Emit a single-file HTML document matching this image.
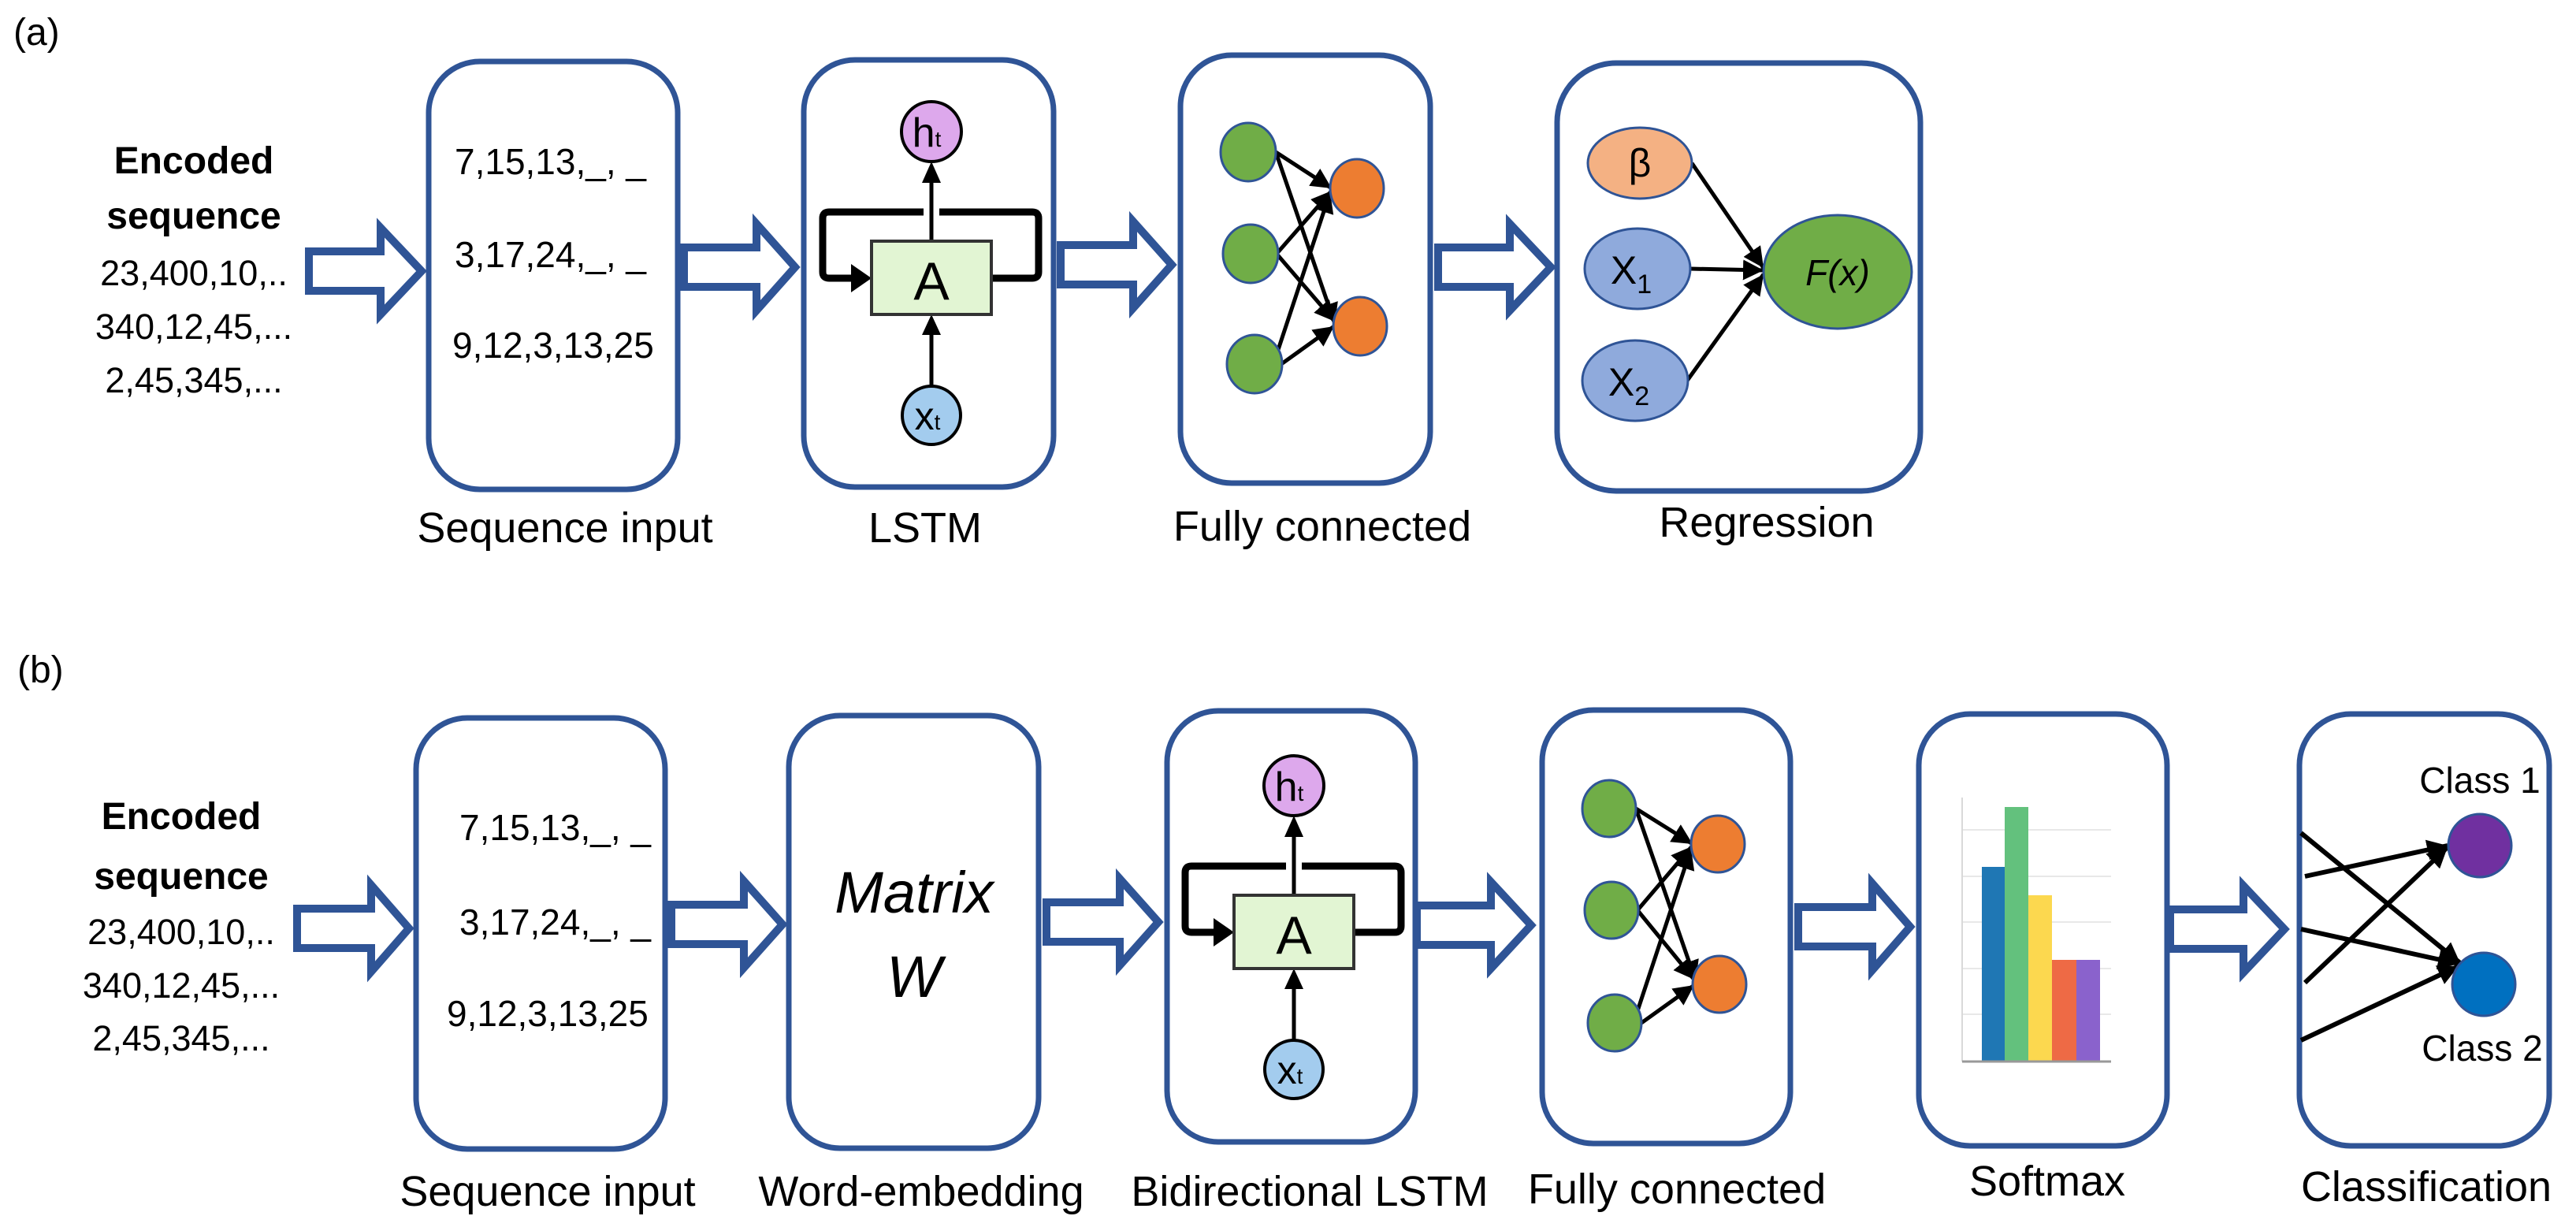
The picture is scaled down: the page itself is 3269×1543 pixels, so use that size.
<!DOCTYPE html>
<html><head><meta charset="utf-8"><style>
html,body{margin:0;padding:0;background:#fff}
svg{display:block}
text{font-family:"Liberation Sans",sans-serif;fill:#000}
</style></head><body>
<svg width="3269" height="1543" viewBox="0 0 3269 1543" xmlns="http://www.w3.org/2000/svg">
<defs>
<marker id="tri" viewBox="0 0 10 10" refX="10" refY="5" markerWidth="26" markerHeight="26" orient="auto" markerUnits="userSpaceOnUse"><path d="M0,0 L10,5 L0,10 z" fill="#000"/></marker>
</defs>

<text x="17" y="57" font-size="48">(a)</text>
<text x="22" y="866" font-size="48">(b)</text>

<g text-anchor="middle">
<text x="246" y="220" font-size="48" font-weight="bold">Encoded</text>
<text x="246" y="290" font-size="48" font-weight="bold">sequence</text>
<text x="246" y="362" font-size="45">23,400,10,..</text>
<text x="246" y="430" font-size="45">340,12,45,...</text>
<text x="246" y="498" font-size="45">2,45,345,...</text>
<text x="230" y="1052" font-size="48" font-weight="bold">Encoded</text>
<text x="230" y="1128" font-size="48" font-weight="bold">sequence</text>
<text x="230" y="1198" font-size="45">23,400,10,..</text>
<text x="230" y="1266" font-size="45">340,12,45,...</text>
<text x="230" y="1333" font-size="45">2,45,345,...</text>
</g>

<g fill="none" stroke="#2F5496" stroke-width="7">
<rect x="544" y="78" width="316" height="543" rx="65"/>
<rect x="1020" y="76" width="317" height="542" rx="65"/>
<rect x="1498" y="70" width="317" height="543" rx="65"/>
<rect x="1976" y="80" width="461" height="543" rx="75"/>
<rect x="528" y="911" width="316" height="547" rx="65"/>
<rect x="1001" y="908" width="317" height="549" rx="65"/>
<rect x="1481" y="902" width="315" height="547" rx="65"/>
<rect x="1957" y="901" width="315" height="550" rx="65"/>
<rect x="2435" y="906" width="315" height="548" rx="65"/>
<rect x="2918" y="906" width="317" height="548" rx="65"/>
</g>

<g fill="#fff" stroke="#2F5496" stroke-width="10" stroke-linejoin="miter">
<polygon points="392,319 483,319 483,289 535,344 483,399 483,369 392,369"/>
<polygon points="868,314 960,314 960,284 1009,339 960,394 960,364 868,364"/>
<polygon points="1346,311 1438,311 1438,281 1487,336 1438,391 1438,361 1346,361"/>
<polygon points="1825,314 1916,314 1916,284 1968,339 1916,394 1916,364 1825,364"/>
<polygon points="377,1153 471,1153 471,1123 519,1178 471,1233 471,1203 377,1203"/>
<polygon points="852,1148 944,1148 944,1118 993,1173 944,1228 944,1198 852,1198"/>
<polygon points="1328,1145 1421,1145 1421,1115 1470,1170 1421,1225 1421,1195 1328,1195"/>
<polygon points="1798,1149 1892,1149 1892,1119 1943,1174 1892,1229 1892,1199 1798,1199"/>
<polygon points="2282,1151 2376,1151 2376,1121 2424,1176 2376,1231 2376,1201 2282,1201"/>
<polygon points="2754,1154 2847,1154 2847,1124 2899,1179 2847,1234 2847,1204 2754,1204"/>
</g>

<g font-size="46">
<text x="577" y="221">7,15,13,_, _</text>
<text x="577" y="339">3,17,24,_, _</text>
<text x="574" y="454">9,12,3,13,25</text>
<text x="583" y="1066">7,15,13,_, _</text>
<text x="583" y="1186">3,17,24,_, _</text>
<text x="567" y="1302">9,12,3,13,25</text>
</g>

<text x="1160" y="1158" font-size="74" font-style="italic" text-anchor="middle">Matrix</text>
<text x="1160" y="1265" font-size="74" font-style="italic" text-anchor="middle">W</text>

<g id="lstm">
<path d="M1258,353 L1310,353 Q1318,353 1318,345 L1318,277 Q1318,269 1310,269 L1192,269 M1172,269 L1052,269 Q1044,269 1044,277 L1044,345 Q1044,353 1052,353 L1084,353" fill="none" stroke="#000" stroke-width="9"/>
<path d="M1080,335 L1106,353 L1080,371 z" fill="#000"/>
<line x1="1182" y1="306" x2="1182" y2="228" stroke="#000" stroke-width="5"/>
<path d="M1170,232 L1182,205 L1194,232 z" fill="#000"/>
<line x1="1182" y1="489" x2="1182" y2="422" stroke="#000" stroke-width="5"/>
<path d="M1170,425 L1182,399 L1194,425 z" fill="#000"/>
<rect x="1106" y="306" width="152" height="93" fill="#E2F5D3" stroke="#333" stroke-width="4"/>
<text x="1182" y="380" font-size="68" text-anchor="middle">A</text>
<circle cx="1182" cy="167" r="38" fill="#DDA8EC" stroke="#000" stroke-width="4"/>
<text x="1176" y="186" font-size="52" text-anchor="middle">h<tspan font-size="28">t</tspan></text>
<circle cx="1182" cy="527" r="37" fill="#A3CCEE" stroke="#000" stroke-width="4"/>
<text x="1177" y="545" font-size="50" text-anchor="middle">x<tspan font-size="28">t</tspan></text>
</g>
<use href="#lstm" transform="translate(460,830)"/>

<g stroke="#000" stroke-width="5" marker-end="url(#tri)">
<line x1="1619" y1="193" x2="1690" y2="239"/>
<line x1="1619" y1="193" x2="1694" y2="411"/>
<line x1="1620" y1="322" x2="1690" y2="242"/>
<line x1="1620" y1="322" x2="1694" y2="408"/>
<line x1="1616" y1="462" x2="1688" y2="244"/>
<line x1="1626" y1="462" x2="1693" y2="414"/>
</g>
<g stroke="#2F5496" stroke-width="3">
<ellipse cx="1584" cy="193" rx="35" ry="37" fill="#70AD47"/>
<ellipse cx="1587" cy="322" rx="35" ry="37" fill="#70AD47"/>
<ellipse cx="1592" cy="462" rx="35" ry="37" fill="#70AD47"/>
<ellipse cx="1722" cy="239" rx="34" ry="37" fill="#ED7D31"/>
<ellipse cx="1726" cy="414" rx="34" ry="37" fill="#ED7D31"/>
</g>

<g stroke="#000" stroke-width="5" marker-end="url(#tri)">
<line x1="2076" y1="1026" x2="2148" y2="1071"/>
<line x1="2076" y1="1026" x2="2152" y2="1245"/>
<line x1="2078" y1="1155" x2="2147" y2="1074"/>
<line x1="2078" y1="1155" x2="2150" y2="1243"/>
<line x1="2073" y1="1298" x2="2146" y2="1077"/>
<line x1="2083" y1="1298" x2="2150" y2="1250"/>
</g>
<g stroke="#2F5496" stroke-width="3">
<ellipse cx="2042" cy="1026" rx="34" ry="36" fill="#70AD47"/>
<ellipse cx="2045" cy="1155" rx="34" ry="36" fill="#70AD47"/>
<ellipse cx="2049" cy="1298" rx="34" ry="36" fill="#70AD47"/>
<ellipse cx="2180" cy="1071" rx="34" ry="36" fill="#ED7D31"/>
<ellipse cx="2182" cy="1249" rx="34" ry="36" fill="#ED7D31"/>
</g>

<g stroke="#000" stroke-width="5" marker-end="url(#tri)">
<line x1="2147" y1="207" x2="2238" y2="340"/>
<line x1="2145" y1="341" x2="2238" y2="343"/>
<line x1="2141" y1="483" x2="2238" y2="348"/>
</g>
<g stroke="#2F5496" stroke-width="3">
<ellipse cx="2081" cy="207" rx="66" ry="45" fill="#F4B183"/>
<ellipse cx="2078" cy="341" rx="67" ry="51" fill="#8FAADC"/>
<ellipse cx="2075" cy="483" rx="67" ry="51" fill="#8FAADC"/>
<ellipse cx="2332" cy="345" rx="94" ry="72" fill="#70AD47"/>
</g>
<text x="2081" y="224" font-size="50" text-anchor="middle">β</text>
<text x="2070" y="360" font-size="50" text-anchor="middle">X<tspan font-size="34" dy="12">1</tspan></text>
<text x="2067" y="502" font-size="50" text-anchor="middle">X<tspan font-size="34" dy="12">2</tspan></text>
<text x="2332" y="362" font-size="46" font-style="italic" text-anchor="middle">F(x)</text>

<g stroke="#E8E8E8" stroke-width="2">
<line x1="2490" y1="1053" x2="2679" y2="1053"/>
<line x1="2490" y1="1112" x2="2679" y2="1112"/>
<line x1="2490" y1="1170" x2="2679" y2="1170"/>
<line x1="2490" y1="1229" x2="2679" y2="1229"/>
<line x1="2490" y1="1287" x2="2679" y2="1287"/>
</g>
<line x1="2490" y1="1012" x2="2490" y2="1347" stroke="#D9D9D9" stroke-width="2"/>
<rect x="2515" y="1100" width="29" height="247" fill="#1F77B4"/>
<rect x="2544" y="1024" width="30" height="323" fill="#63C17D"/>
<rect x="2574" y="1136" width="30" height="211" fill="#FCD84F"/>
<rect x="2604" y="1218" width="31" height="129" fill="#EE6A45"/>
<rect x="2635" y="1218" width="30" height="129" fill="#8A62CC"/>
<line x1="2490" y1="1347" x2="2679" y2="1347" stroke="#999" stroke-width="3"/>

<g stroke="#000" stroke-width="6" marker-end="url(#tri)">
<line x1="2925" y1="1112" x2="3106" y2="1073"/>
<line x1="2925" y1="1247" x2="3106" y2="1075"/>
<line x1="2920" y1="1057" x2="3122" y2="1222"/>
<line x1="2920" y1="1179" x2="3120" y2="1223"/>
<line x1="2920" y1="1320" x2="3120" y2="1226"/>
</g>
<ellipse cx="3147" cy="1073" rx="40" ry="40" fill="#7030A0" stroke="#2F5496" stroke-width="3"/>
<ellipse cx="3152" cy="1249" rx="40" ry="40" fill="#0070C0" stroke="#2F5496" stroke-width="3"/>
<text x="3147" y="1006" font-size="46" text-anchor="middle">Class 1</text>
<text x="3150" y="1346" font-size="46" text-anchor="middle">Class 2</text>

<g font-size="54" text-anchor="middle">
<text x="717" y="688">Sequence input</text>
<text x="1174" y="688">LSTM</text>
<text x="1678" y="686">Fully connected</text>
<text x="2242" y="681">Regression</text>
<text x="695" y="1530">Sequence input</text>
<text x="1169" y="1530">Word-embedding</text>
<text x="1662" y="1530">Bidirectional LSTM</text>
<text x="2128" y="1527">Fully connected</text>
<text x="2598" y="1517">Softmax</text>
<text x="3079" y="1524">Classification</text>
</g>
</svg>
</body></html>
